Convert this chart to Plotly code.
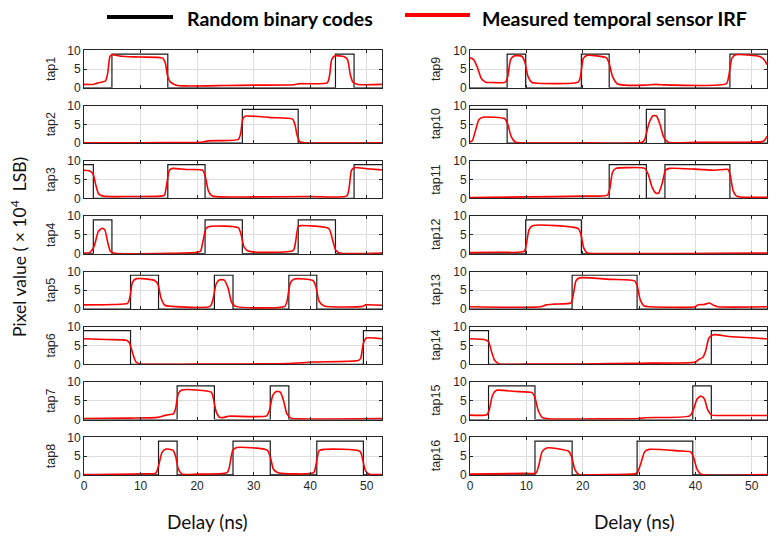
import plotly.graph_objects as go

T_END = 52.7
x_ticks = [0, 10, 20, 30, 40, 50]
y_ticks = [0, 5, 10]
code_level = 9
tap_names = [f"tap{i}" for i in range(1, 17)]

# high intervals of the random binary codes (ns)
code_tap1 = [(4.94, 14.82), (44.47, 47.76)]
code_tap2 = [(28.0, 37.88)]
code_tap3 = [(0, 1.65), (14.82, 21.41), (47.76, 52.7)]
code_tap4 = [(1.65, 4.94), (21.41, 28.0), (37.88, 44.47)]
code_tap5 = [(8.23, 13.18), (23.06, 26.35), (36.23, 41.17)]
code_tap6 = [(0, 8.23), (49.41, 52.7)]
code_tap7 = [(16.47, 23.06), (32.94, 36.23)]
code_tap8 = [(13.18, 16.47), (26.35, 32.94), (41.17, 49.41)]
code_tap9 = [(6.59, 9.88), (19.76, 24.7), (46.12, 52.7)]
code_tap10 = [(0, 6.59), (31.29, 34.59)]
code_tap11 = [(24.7, 31.29), (34.59, 46.12)]
code_tap12 = [(9.88, 19.76)]
code_tap13 = [(18.12, 29.65)]
code_tap14 = [(0, 3.29), (42.82, 52.7)]
code_tap15 = [(3.29, 11.53), (39.53, 42.82)]
code_tap16 = [(11.53, 18.12), (29.65, 39.53)]

# measured IRF (delay ns, pixel value x1e4 LSB)
irf_tap1 = [(0,0.9),(1.6,0.9),(3.0,1.5),(3.8,1.8),(4.2,4.0),(4.6,8.4),(5.0,8.8),(6.5,8.4),(10,8.2),(13.9,7.9),(14.4,6.5),(14.8,3.0),(15.3,1.5),(16.3,0.7),(18,0.5),(25,0.6),(30,0.7),(37,0.8),(38,1.1),(43,1.3),(43.4,3.0),(43.8,7.5),(44.3,8.5),(46.0,8.3),(46.6,7.5),(47.1,3.5),(47.6,1.4),(48.5,0.9),(52.7,0.9)]
irf_tap2 = [(0,0.1),(10,0.1),(20,0.2),(21,0.3),(22,0.6),(27.3,1.0),(27.7,2.5),(28.1,6.5),(28.6,7.2),(33,6.8),(36.9,6.4),(37.3,5.0),(37.7,2.0),(38.2,0.3),(39,0.1),(52.7,0.1)]
irf_tap3 = [(0,7.5),(1.0,7.3),(1.6,6.5),(2.1,3.5),(2.6,1.2),(3.4,0.6),(8,0.5),(13.5,0.6),(14.2,0.8),(14.6,3.5),(15.1,7.5),(15.7,8.0),(18,7.7),(21.0,7.5),(21.5,5.5),(22.0,2.0),(22.6,0.7),(24,0.4),(30,0.4),(40,0.5),(46.5,0.7),(46.9,3.0),(47.3,7.5),(47.8,8.2),(50,7.9),(52.7,7.6)]
irf_tap4 = [(0,0.2),(1.0,0.3),(1.8,2.0),(2.5,5.8),(3.2,6.8),(3.7,6.3),(4.2,3.0),(4.7,0.6),(5.5,0.1),(15,0.1),(20,0.4),(20.6,0.7),(21.0,3.0),(21.6,6.8),(22.4,7.3),(27.3,6.9),(27.8,5.0),(28.3,1.8),(29,0.7),(37.0,0.9),(37.4,3.0),(37.9,7.3),(38.4,7.5),(43.3,6.7),(43.9,4.0),(44.5,1.0),(45.2,0.2),(52.7,0.2)]
irf_tap5 = [(0,1.1),(5,1.2),(7.7,1.5),(8.1,3.0),(8.6,7.2),(9.3,8.1),(12.5,7.6),(13.1,6.5),(13.6,3.0),(14.3,1.0),(15.5,0.7),(22.3,0.7),(22.8,2.5),(23.4,6.8),(24.0,7.8),(24.8,7.7),(25.5,5.5),(26.1,1.8),(26.8,0.7),(35.5,0.7),(35.9,2.0),(36.5,7.0),(37.2,8.0),(40.5,7.6),(41.0,6.0),(41.6,2.0),(42.5,0.8),(49.3,0.7),(49.8,1.1),(52.7,1.0)]
irf_tap6 = [(0,6.8),(4,6.6),(7.5,6.4),(8.0,5.8),(8.6,3.0),(9.2,0.6),(10,0.1),(20,0.05),(30,0.1),(36,0.2),(40.5,0.6),(48.5,1.0),(48.9,1.5),(49.4,5.5),(49.9,7.0),(52.7,6.8)]
irf_tap7 = [(0,0.3),(8,0.4),(13,0.6),(14.5,1.2),(15.8,1.5),(16.2,3.0),(16.7,7.0),(17.3,7.9),(22.5,7.3),(22.9,5.5),(23.4,2.0),(24.0,0.6),(24.8,0.6),(25.5,0.9),(32.3,1.0),(32.8,2.5),(33.4,6.5),(34.0,7.5),(34.7,7.3),(35.3,5.0),(35.9,1.5),(36.6,0.4),(38,0.2),(52.7,0.3)]
irf_tap8 = [(0,0.1),(10,0.3),(12.7,0.5),(13.2,2.5),(13.8,6.0),(14.5,6.9),(15.7,6.6),(16.2,5.0),(16.7,1.5),(17.4,0.2),(20,0.2),(25.3,0.6),(25.7,2.0),(26.3,6.5),(27.0,7.3),(32.4,6.6),(33.0,4.5),(33.5,1.5),(34.3,0.6),(40.6,0.6),(41.0,2.5),(41.6,6.5),(42.5,6.8),(48.8,6.3),(49.3,4.0),(49.8,1.0),(50.5,0.2),(52.7,0.1)]
irf_tap9 = [(0,8.0),(0.6,7.6),(1.3,5.5),(2.0,2.5),(2.8,1.5),(4,1.4),(6.3,1.5),(6.7,3.0),(7.2,7.5),(7.8,8.5),(9.2,8.4),(9.7,7.0),(10.3,3.0),(11.0,1.4),(12,1.2),(19.2,1.5),(19.6,3.0),(20.1,7.8),(20.7,8.6),(24.2,8.0),(24.7,6.5),(25.3,3.0),(26.2,1.0),(27.5,0.7),(31,0.7),(33,0.9),(34,0.8),(45.5,1.1),(45.9,3.0),(46.5,8.0),(47.2,8.8),(51.5,8.3),(52.2,7.5),(52.7,6.2)]
irf_tap10 = [(0,0.3),(0.4,0.6),(1.0,3.5),(1.6,6.3),(2.3,6.9),(6.2,6.5),(6.7,5.0),(7.3,1.8),(8.0,0.3),(9,0.05),(20,0.05),(30.5,0.2),(31.0,1.0),(31.8,5.5),(32.5,7.3),(33.1,7.2),(33.7,5.0),(34.4,1.5),(35.2,0.2),(40,0.2),(51.8,0.4),(52.3,0.8),(52.7,1.8)]
irf_tap11 = [(0,0.2),(10,0.4),(20,0.6),(24.4,0.9),(24.8,2.5),(25.3,7.0),(25.9,8.0),(28,8.2),(31.0,8.0),(31.6,6.5),(32.3,3.0),(33.0,1.4),(33.5,1.5),(34.1,4.0),(34.7,7.5),(35.4,8.0),(40,7.8),(43.5,7.5),(45.8,7.7),(46.2,6.0),(46.7,2.0),(47.3,0.6),(48.5,0.3),(52.7,0.3)]
irf_tap12 = [(0,0.3),(5,0.4),(9.6,0.6),(10.0,2.5),(10.5,6.5),(11.2,7.5),(19.2,6.7),(19.7,5.0),(20.2,1.5),(20.8,0.2),(22,0.05),(52.7,0.15)]
irf_tap13 = [(0,0.6),(12.5,0.6),(13.5,1.1),(15,1.3),(17.9,1.6),(18.3,3.5),(18.8,7.5),(19.4,8.3),(25,7.9),(29.2,7.5),(29.7,6.0),(30.2,2.5),(30.9,0.8),(32,0.6),(40,0.6),(40.4,1.1),(41.5,1.2),(42.5,1.6),(43.2,1.0),(44,0.6),(52.7,0.6)]
irf_tap14 = [(0,6.8),(2.8,6.5),(3.3,6.0),(3.8,3.5),(4.4,1.0),(5.2,0.1),(10,0.05),(20,0.1),(30,0.3),(40,0.6),(40.6,1.3),(41.3,1.8),(41.8,3.5),(42.4,7.0),(43.2,7.9),(46,7.4),(52.7,6.8)]
irf_tap15 = [(0,1.2),(3.0,1.3),(3.4,2.5),(4.0,6.5),(4.7,7.8),(8,7.5),(11.0,7.2),(11.5,6.0),(12.1,2.5),(12.8,0.6),(14,0.2),(25,0.2),(30,0.3),(31,0.5),(39.0,1.0),(39.6,2.5),(40.3,5.5),(41.0,6.3),(41.6,5.5),(42.2,2.5),(42.9,1.2),(44,1.1),(52.7,1.1)]
irf_tap16 = [(0,0.2),(10,0.4),(11.7,0.5),(12.2,2.5),(12.8,6.2),(13.6,7.2),(17.5,6.3),(18.0,5.0),(18.6,1.5),(19.3,0.1),(20,0.05),(29.2,0.3),(29.7,0.6),(30.3,3.0),(31.0,6.2),(31.8,6.8),(37,6.4),(39.2,6.1),(39.7,4.5),(40.3,1.5),(41.0,0.2),(52.7,0.1)]

codes = [code_tap1, code_tap2, code_tap3, code_tap4, code_tap5, code_tap6, code_tap7, code_tap8,
         code_tap9, code_tap10, code_tap11, code_tap12, code_tap13, code_tap14, code_tap15, code_tap16]
irfs = [irf_tap1, irf_tap2, irf_tap3, irf_tap4, irf_tap5, irf_tap6, irf_tap7, irf_tap8,
        irf_tap9, irf_tap10, irf_tap11, irf_tap12, irf_tap13, irf_tap14, irf_tap15, irf_tap16]

W, H = 776, 538
AX = "#262626"
GRID = "#dedede"
TICKFONT = dict(family="Liberation Sans, Arial, sans-serif", size=12, color=AX)

def step_xy(intervals):
    xs, ys = [], []
    if intervals and intervals[0][0] <= 0:
        xs.append(0); ys.append(code_level)
    else:
        xs.append(0); ys.append(0)
    for a, b in intervals:
        if a > 0:
            xs += [a, a]; ys += [0, code_level]
        if b < T_END:
            xs += [b, b]; ys += [code_level, 0]
        else:
            xs.append(T_END); ys.append(code_level)
    if ys[-1] == 0:
        xs.append(T_END); ys.append(0)
    return xs, ys

fig = go.Figure()
layout = dict()
annotations = []

col_x = [(84, 382), (470, 767)]
row_top0, row_step, row_h = 50.3, 55.3, 37.5
label_x = [51, 436]

for i in range(16):
    col = i // 8
    row = i % 8
    n = i + 1
    xa = f"x{n}" if n > 1 else "x"
    ya = f"y{n}" if n > 1 else "y"
    xs, ys = step_xy(codes[i])
    fig.add_trace(go.Scatter(x=xs, y=ys, mode="lines", xaxis=xa, yaxis=ya,
                             line=dict(color="#1a1a1a", width=1.2), showlegend=False,
                             name="Random binary codes", hoverinfo="skip"))
    fig.add_trace(go.Scatter(x=[p[0] for p in irfs[i]], y=[p[1] for p in irfs[i]], mode="lines",
                             xaxis=xa, yaxis=ya,
                             line=dict(color="#ff0000", width=1.6, shape="spline", smoothing=0.6),
                             showlegend=False, name="Measured temporal sensor IRF"))
    top = row_top0 + row * row_step
    bot = top + row_h
    xkey = "xaxis" if n == 1 else f"xaxis{n}"
    ykey = "yaxis" if n == 1 else f"yaxis{n}"
    layout[xkey] = dict(domain=[col_x[col][0] / W, col_x[col][1] / W], anchor=ya,
                        range=[0, T_END], tickvals=x_ticks,
                        showticklabels=(row == 7), tickfont=TICKFONT,
                        ticks="inside", ticklen=3, tickcolor=AX, mirror="ticks",
                        showline=True, linecolor=AX, linewidth=1,
                        showgrid=True, gridcolor=GRID, gridwidth=1, zeroline=False,
                        automargin=False)
    layout[ykey] = dict(domain=[1 - bot / H, 1 - top / H], anchor=xa,
                        range=[0, 10], tickvals=y_ticks, tickfont=TICKFONT,
                        ticks="inside", ticklen=3, tickcolor=AX, mirror="ticks",
                        showline=True, linecolor=AX, linewidth=1,
                        showgrid=True, gridcolor=GRID, gridwidth=1, zeroline=False,
                        automargin=False)
    annotations.append(dict(text=tap_names[i], x=label_x[col] / W, y=1 - (top + bot) / 2 / H,
                            xref="paper", yref="paper", showarrow=False, textangle=-90,
                            xanchor="center", yanchor="middle",
                            font=dict(family="Liberation Sans, Arial, sans-serif", size=12.5, color=AX)))

TITLEFONT = dict(family="Lato, sans-serif", size=19, color="#111111")
annotations.append(dict(text="Delay (ns)", x=207 / W, y=1 - 521 / H, xref="paper", yref="paper",
                        showarrow=False, xanchor="center", yanchor="middle", font=TITLEFONT))
annotations.append(dict(text="Delay (ns)", x=634 / W, y=1 - 521 / H, xref="paper", yref="paper",
                        showarrow=False, xanchor="center", yanchor="middle", font=TITLEFONT))
annotations.append(dict(text="Pixel value ( × 10<sup>4</sup>  LSB)", x=18 / W, y=1 - 247 / H,
                        xref="paper", yref="paper", showarrow=False, textangle=-90,
                        xanchor="center", yanchor="middle",
                        font=dict(family="Lato, sans-serif", size=17.5, color="#111111")))

LEGFONT = dict(family="Lato, sans-serif", size=19.5, color="#000000")
annotations.append(dict(text="<b>Random binary codes</b>", x=185 / W, y=1 - 18 / H, xref="paper",
                        yref="paper", showarrow=False, xanchor="left", yanchor="middle", font=LEGFONT))
annotations.append(dict(text="<b>Measured temporal sensor IRF</b>", x=480 / W, y=1 - 18 / H,
                        xref="paper", yref="paper", showarrow=False, xanchor="left", yanchor="middle",
                        font=LEGFONT))
shapes = [
    dict(type="line", xref="paper", yref="paper", x0=107 / W, x1=173 / W, y0=1 - 17 / H, y1=1 - 17 / H,
         line=dict(color="#000000", width=4)),
    dict(type="line", xref="paper", yref="paper", x0=405 / W, x1=470 / W, y0=1 - 15 / H, y1=1 - 15 / H,
         line=dict(color="#ff0000", width=4)),
]

fig.update_layout(width=W, height=H, margin=dict(l=0, r=0, t=0, b=0, autoexpand=False),
                  paper_bgcolor="white", plot_bgcolor="white",
                  annotations=annotations, shapes=shapes, **layout)
fig.write_html("out.html", config={"displayModeBar": False},
               post_script="document.body.style.margin='0';document.body.style.overflow='hidden';")
